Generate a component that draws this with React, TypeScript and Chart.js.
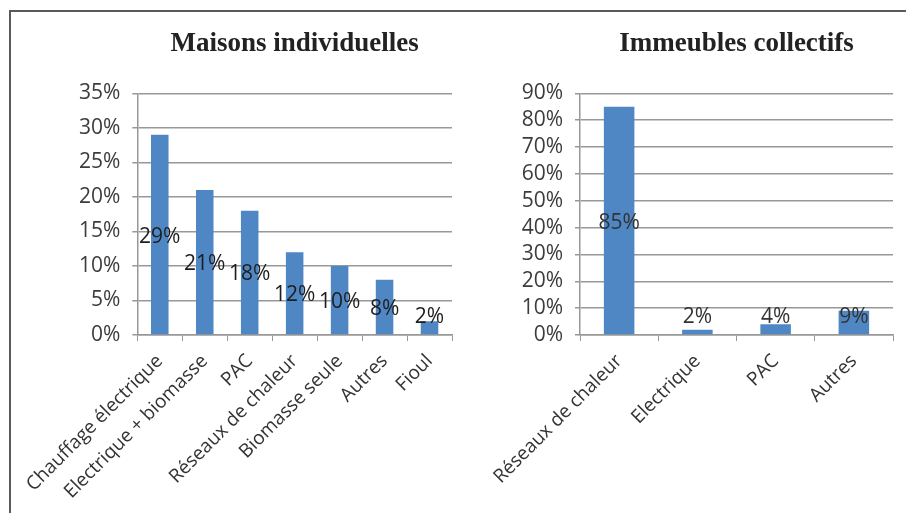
import React, { useEffect, useRef } from "react";
import { Chart, registerables } from "chart.js";

Chart.register(...registerables);

// ---- Data ----
const houseTitle = "Maisons individuelles";
const houseCategories = [
  "Chauffage électrique",
  "Electrique + biomasse",
  "PAC",
  "Réseaux de chaleur",
  "Biomasse seule",
  "Autres",
  "Fioul",
];
const houseValues = [29, 21, 18, 12, 10, 8, 2];
const houseAxisMax = 35;
const houseAxisStep = 5;

const buildingTitle = "Immeubles collectifs";
const buildingCategories = ["Réseaux de chaleur", "Electrique", "PAC", "Autres"];
const buildingValues = [85, 2, 4, 9];
const buildingAxisMax = 90;
const buildingAxisStep = 10;

const BAR_COLOR = "#4f86c4";
const GRID_COLOR = "#989898";
const SANS = "'Open Sans', 'Noto Sans', sans-serif";
const SERIF = "'Liberation Serif', 'DejaVu Serif', serif";

const valueLabels = {
  id: "valueLabels",
  afterDatasetsDraw(chart: any, _args: any, opts: any) {
    const ctx = chart.ctx;
    const meta = chart.getDatasetMeta(0);
    const data = chart.data.datasets[0].data as number[];
    ctx.save();
    ctx.font = opts.font;
    ctx.fillStyle = opts.color;
    ctx.textAlign = "center";
    ctx.textBaseline = "middle";
    meta.data.forEach((bar: any, i: number) => {
      const { x, y, base } = bar.getProps(["x", "y", "base"], true);
      const mid = (y + base) / 2 + 2;
      const ly = Math.min(mid, base - 17);
      ctx.fillText(data[i] + "%", x, ly);
    });
    ctx.restore();
  },
};

type PanelProps = {
  title: string;
  categories: string[];
  values: number[];
  max: number;
  step: number;
  width: number;
  height: number;
  left: number;
  top: number;
  padRight: number;
  labelColor: string;
};

function BarPanel(p: PanelProps) {
  const ref = useRef<HTMLCanvasElement | null>(null);
  useEffect(() => {
    if (!ref.current) return;
    const chart = new Chart(ref.current, {
      type: "bar",
      data: {
        labels: p.categories,
        datasets: [
          {
            data: p.values,
            backgroundColor: BAR_COLOR,
            borderWidth: 0,
            categoryPercentage: 1,
            barPercentage: 0.39,
          },
        ],
      },
      plugins: [valueLabels as any],
      options: {
        animation: false,
        responsive: false,
        devicePixelRatio: 1,
        layout: { padding: { left: 0, right: p.padRight, top: 0, bottom: 0 } },
        plugins: {
          legend: { display: false },
          tooltip: { enabled: false },
          title: {
            display: true,
            text: p.title,
            fullSize: false,
            color: "#222222",
            font: { family: SERIF, size: 27, weight: "bold", lineHeight: 1.2 },
            padding: { top: 16, bottom: 33 },
          },
          valueLabels: { font: `21px ${SANS}`, color: p.labelColor },
        } as any,
        scales: {
          x: {
            grid: {
              display: true,
              drawOnChartArea: false,
              drawTicks: true,
              tickLength: 6,
              offset: true,
              color: GRID_COLOR,
            },
            border: { display: true, color: GRID_COLOR, width: 1.5 },
            ticks: {
              autoSkip: false,
              maxRotation: 45,
              minRotation: 45,
              color: "#333333",
              font: { family: SANS, size: 19 },
              padding: 9,
            },
            afterFit: (scale: any) => {
              scale.height = 178;
            },
          },
          y: {
            min: 0,
            max: p.max,
            grid: { color: GRID_COLOR, lineWidth: 1.5, tickLength: 5 },
            border: { display: true, color: GRID_COLOR, width: 1.5 },
            ticks: {
              autoSkip: false,
              stepSize: p.step,
              color: "#3c3c3c",
              font: { family: SANS, size: 21 },
              padding: 12,
              callback: (v: any) => v + "%",
            },
            afterFit: (scale: any) => {
              scale.width = 125;
            },
          },
        },
      },
    });
    return () => chart.destroy();
  }, []);
  return (
    <canvas
      ref={ref}
      width={p.width}
      height={p.height}
      style={{
        position: "absolute",
        left: p.left,
        top: p.top,
        width: p.width,
        height: p.height,
      }}
    />
  );
}

export default function App() {
  return (
    <div
      style={{
        position: "absolute",
        left: 0,
        top: 0,
        width: 906,
        height: 513,
        background: "#ffffff",
        overflow: "hidden",
      }}
    >
      <div
        style={{
          position: "absolute",
          left: 9,
          top: 10,
          width: 897,
          height: 503,
          borderTop: "2px solid #5a5a5a",
          borderLeft: "2px solid #5a5a5a",
          boxSizing: "border-box",
        }}
      />
      <BarPanel
        title={houseTitle}
        categories={houseCategories}
        values={houseValues}
        max={houseAxisMax}
        step={houseAxisStep}
        width={443}
        height={501}
        left={12}
        top={12}
        padRight={3}
        labelColor="#1e1e1e"
      />
      <BarPanel
        title={buildingTitle}
        categories={buildingCategories}
        values={buildingValues}
        max={buildingAxisMax}
        step={buildingAxisStep}
        width={451}
        height={501}
        left={455}
        top={12}
        padRight={13}
        labelColor="#333333"
      />
    </div>
  );
}
